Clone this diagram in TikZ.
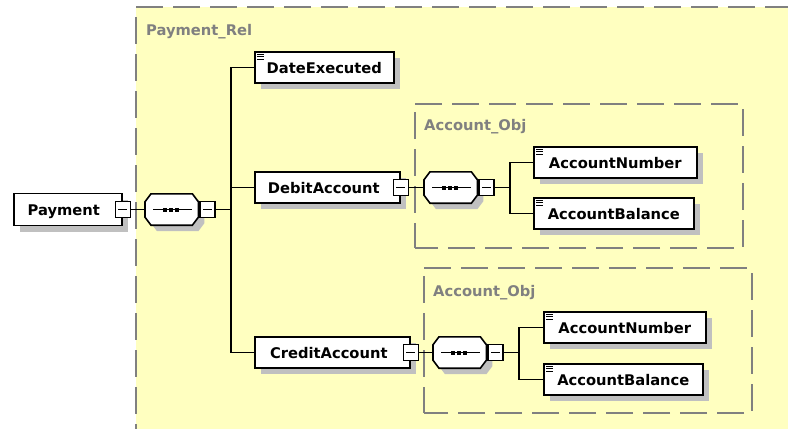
\documentclass[tikz,border=0pt]{standalone}
\usepackage{fontspec}
\newfontfamily\diagfont{DejaVu Sans}
\usetikzlibrary{shadows}
\definecolor{groupfill}{RGB}{255,255,192}
\definecolor{groupline}{RGB}{128,128,128}
\definecolor{shade}{RGB}{192,192,192}

% sequence compositor: octagon with the "-..." mark and its collapse button
\newcommand\seqshape[2]{%
  \draw[octa] ([xshift=6pt]#1.north west) -- ([xshift=-6pt]#1.north east)
    -- ([yshift=-8pt]#1.north east) -- ([yshift=8pt]#1.south east)
    -- ([xshift=-6pt]#1.south east) -- ([xshift=6pt]#1.south west)
    -- ([yshift=8pt]#1.south west) -- ([yshift=-8pt]#1.north west) -- cycle;
  \draw[conn] ([xshift=8pt]#1.west) -- ([xshift=-6pt]#1.east);
  \foreach \d in {-9,-3,3}{\fill ([shift={(\d pt,-2pt)}]#1.center) rectangle ++(4pt,4pt);}
  \node[expander,anchor=west] (#2) at ([xshift=1pt]#1.east) {};
}

\begin{document}
\begin{tikzpicture}[x=1pt,y=1pt,
  every node/.style={inner sep=0pt},
  boxshadow/.style={drop shadow={shadow xshift=6pt,shadow yshift=-6pt,fill=shade,opacity=1}},
  elem/.style={draw=black,line width=1.6pt,fill=white,boxshadow,minimum height=31pt,
    anchor=west,font=\diagfont\bfseries\fontsize{14.7pt}{17pt}\selectfont,
    text height=11pt,text depth=0pt},
  expander/.style={draw=black,line width=1.2pt,fill=white,minimum width=15pt,minimum height=16pt,
    path picture={\draw[line width=1.2pt] ([xshift=3pt]path picture bounding box.west)
      -- ([xshift=-3pt]path picture bounding box.east);}},
  seqslot/.style={minimum width=53pt,minimum height=31pt,anchor=west},
  octa/.style={draw=black,line width=1.6pt,fill=white,boxshadow},
  conn/.style={line width=1.6pt},
  icon/.style={line width=1pt},
  grouplabel/.style={anchor=base west,text=groupline,
    font=\diagfont\bfseries\fontsize{14.7pt}{17pt}\selectfont},
  groupedge/.style={draw=groupline,line width=1.4pt,dash pattern=on 27pt off 10pt}
]
\useasboundingbox (0,0) rectangle (788,-429);

% model group Payment_Rel
\fill[groupfill] (136,-7) rectangle (788,-429);
\draw[groupedge] (136,-7) -- (788,-7);
\draw[groupedge,dash phase=27pt] (136,-7) -- (136,-429);
\node[grouplabel] (relname) at (146,-35) {Payment\_Rel};

% two Account_Obj groups
\draw[groupedge] (415,-104) -- (743,-104) -- (743,-248) -- (415,-248);
\draw[groupedge,dash phase=29pt] (415,-104) -- (415,-248);
\node[grouplabel] (obj1name) at (424,-130) {Account\_Obj};
\draw[groupedge] (424,-268) -- (752,-268) -- (752,-413) -- (424,-413);
\draw[groupedge,dash phase=29pt] (424,-268) -- (424,-413);
\node[grouplabel] (obj2name) at (433,-296) {Account\_Obj};

% elements
\node[elem,minimum width=108pt,minimum height=32pt] (pay) at (13,-209.5) {\hspace*{-8pt}Payment};
\node[expander] (payX) at (pay.east) {};
\node[seqslot] (s0) at (145,-209.5) {};
\seqshape{s0}{s0X}

\node[elem,minimum width=139pt] (date) at (254,-67.5) {DateExecuted};
\node[elem,minimum width=145pt] (debit) at (254,-187.5) {\hspace*{-7pt}DebitAccount};
\node[expander] (debitX) at (debit.east) {};
\node[elem,minimum width=155pt] (credit) at (254,-352.5) {\hspace*{-7pt}CreditAccount};
\node[expander] (creditX) at (credit.east) {};

\node[seqslot] (s1) at (424,-187.5) {};
\seqshape{s1}{s1X}
\node[seqslot] (s2) at (433,-352.5) {};
\seqshape{s2}{s2X}

\node[elem,minimum width=163pt] (an1) at (533,-162.5) {AccountNumber};
\node[elem,minimum width=160pt] (ab1) at (533,-213.5) {AccountBalance};
\node[elem,minimum width=162pt] (an2) at (543,-327.5) {AccountNumber};
\node[elem,minimum width=159pt] (ab2) at (543,-379.5) {AccountBalance};

% simple-content marks
\foreach \n in {date,an1,ab1,an2,ab2}{
  \draw[icon] ([shift={(3pt,-2.8pt)}]\n.north west) -- ++(7pt,0pt)
    ([shift={(3pt,-5.3pt)}]\n.north west) -- ++(7pt,0pt)
    ([shift={(3pt,-7.8pt)}]\n.north west) -- ++(7pt,0pt);
}

% connectors
\coordinate (trunk) at (231,0);
\coordinate (fork1) at (510,0);
\coordinate (fork2) at (519,0);
\draw[conn] (payX.east) -- (s0.west);
\draw[conn] (s0X.east) -- (s0X.east -| trunk);
\draw[conn] (date.west) -- (date.west -| trunk) -- (credit.west -| trunk) -- (credit.west);
\draw[conn] (debit.west -| trunk) -- (debit.west);
\draw[conn] (debitX.east) -- (s1.west);
\draw[conn] (s1X.east) -- (s1X.east -| fork1);
\draw[conn] (an1.west) -- (an1.west -| fork1) -- (ab1.west -| fork1) -- (ab1.west);
\draw[conn] (creditX.east) -- (s2.west);
\draw[conn] (s2X.east) -- (s2X.east -| fork2);
\draw[conn] (an2.west) -- (an2.west -| fork2) -- (ab2.west -| fork2) -- (ab2.west);
\end{tikzpicture}
\end{document}
